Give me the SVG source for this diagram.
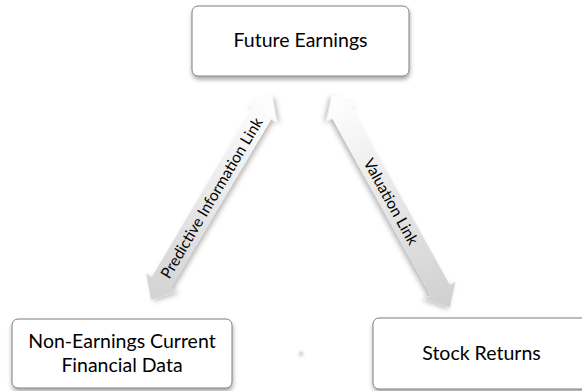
<svg xmlns="http://www.w3.org/2000/svg" width="582" height="391" viewBox="0 0 582 391">
  <defs>
    <filter id="boxShadow" x="-10%" y="-20%" width="120%" height="150%">
      <feDropShadow dx="0.5" dy="3" stdDeviation="2" flood-color="#000" flood-opacity="0.35"/>
    </filter>
    <filter id="arrowShadow" x="-20%" y="-50%" width="140%" height="200%">
      <feDropShadow dx="0" dy="3" stdDeviation="2.5" flood-color="#000" flood-opacity="0.28"/>
    </filter>
    <filter id="soft" x="-200%" y="-200%" width="500%" height="500%">
      <feGaussianBlur stdDeviation="1.5"/>
    </filter>
    <!-- shading runs along each arrow's own x axis -->
    <linearGradient id="gradUp" x1="0" y1="0" x2="1" y2="0">
      <stop offset="0" stop-color="#d2d2d2"/>
      <stop offset="1" stop-color="#ffffff"/>
    </linearGradient>
    <linearGradient id="gradDown" x1="0" y1="0" x2="1" y2="0">
      <stop offset="0" stop-color="#ffffff"/>
      <stop offset="1" stop-color="#cfcfcf"/>
    </linearGradient>
  </defs>
  <style>
    .box { fill: #ffffff; stroke: #7f7f7f; stroke-width: 1; filter: url(#boxShadow); }
    .label { font-family: Lato, "Liberation Sans", sans-serif; font-size: 19.5px; fill: #000; text-anchor: middle; }
    .link { font-family: Lato, "Liberation Sans", sans-serif; font-size: 15.5px; fill: #000; text-anchor: middle; }
    .arrow { filter: url(#arrowShadow); }
  </style>

  <rect width="582" height="391" fill="#ffffff"/>

  <!-- connectors: double-headed block arrows -->
  <g id="connectors">
    <g id="predictive-link" transform="translate(211.5 198) rotate(-59.3)">
      <polygon class="arrow" fill="url(#gradUp)" points="-118.5,0 -98.5,-17.5 -98.5,-11 98.5,-11 98.5,-17.5 118.5,0 98.5,17.5 98.5,11 -98.5,11 -98.5,17.5"/>
      <text class="link" x="0" y="5.5">Predictive Information Link</text>
    </g>
    <g id="valuation-link" transform="translate(391 201.5) rotate(61)">
      <polygon class="arrow" fill="url(#gradDown)" points="-121.5,0 -101.5,-17.5 -101.5,-11 101.5,-11 101.5,-17.5 121.5,0 101.5,17.5 101.5,11 -101.5,11 -101.5,17.5"/>
      <text class="link" x="0" y="5.5">Valuation Link</text>
    </g>
  </g>

  <g id="future-earnings">
    <rect class="box" x="192" y="6" width="217" height="70" rx="6"/>
    <text class="label" x="300.5" y="47">Future Earnings</text>
  </g>

  <g id="non-earnings-data">
    <rect class="box" x="12" y="319" width="220" height="69" rx="6"/>
    <text class="label" x="122" y="348">Non-Earnings Current</text>
    <text class="label" x="122" y="371.5">Financial Data</text>
  </g>

  <g id="stock-returns">
    <rect class="box" x="373" y="318" width="217" height="71" rx="6"/>
    <text class="label" x="481.5" y="360">Stock Returns</text>
  </g>

  <!-- faint speck between the lower boxes -->
  <ellipse cx="301" cy="354" rx="1.8" ry="2.4" fill="#bdbdbd" filter="url(#soft)"/>
</svg>
